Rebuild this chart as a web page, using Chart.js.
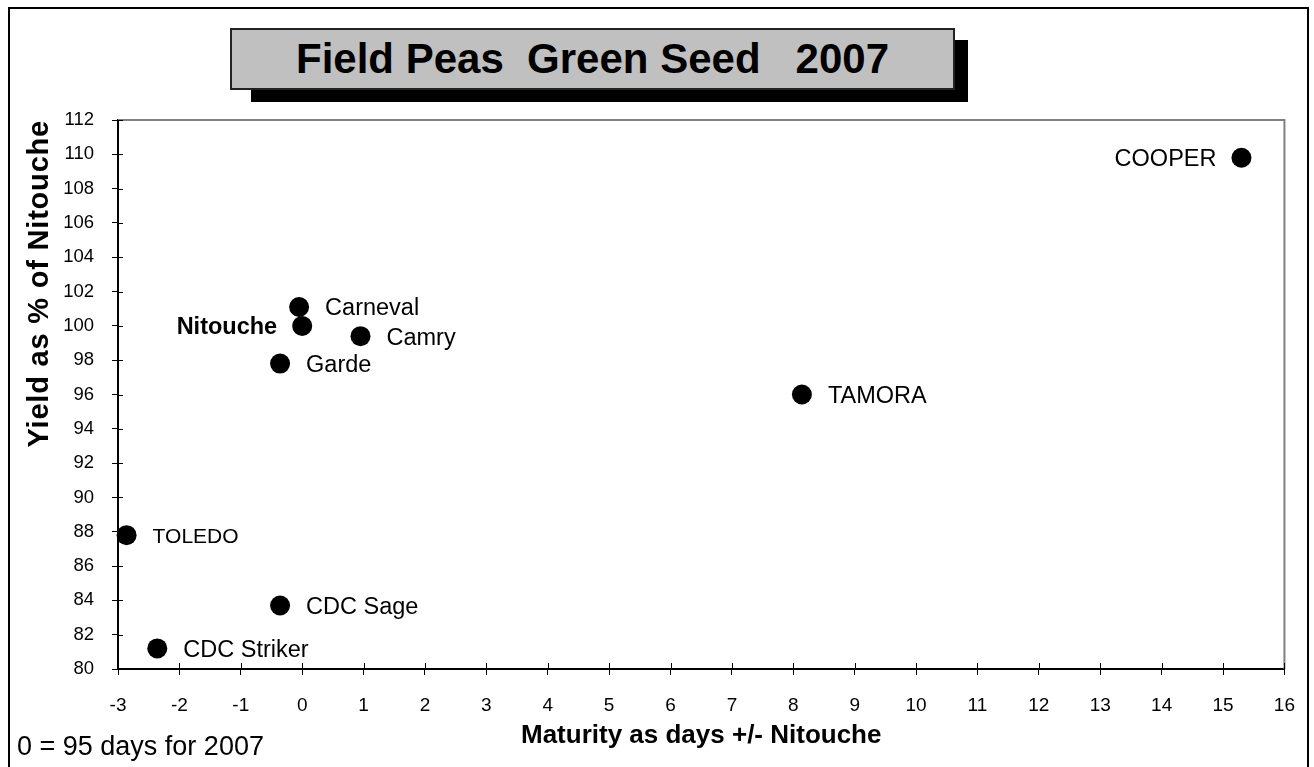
<!DOCTYPE html>
<html>
<head>
<meta charset="utf-8">
<script src="https://cdn.jsdelivr.net/npm/chart.js@4/dist/chart.umd.min.js"></script>
<style>
  html, body { margin: 0; padding: 0; background: #fff; overflow: hidden; }
  #wrap { position: relative; width: 1314px; height: 767px; font-family: "Liberation Sans", Arial, sans-serif; }
  #frame { position: absolute; left: 8px; top: 7px; width: 1301px; height: 800px; border: 2px solid #000; box-sizing: border-box; }
  #shadow { position: absolute; left: 251px; top: 40px; width: 717px; height: 62px; background: #000; }
  #titleBox {
    position: absolute; left: 230px; top: 28px; width: 725px; height: 62px; box-sizing: border-box;
    background: #c0c0c0; border: 2px solid #222;
    font: bold 42px "Liberation Sans", Arial, sans-serif; white-space: pre;
    text-align: center; line-height: 58px; color: #000;
  }
  #note { position: absolute; left: 17px; top: 731px; font: 27px "Liberation Sans", Arial, sans-serif; color: #000; }
  canvas { position: absolute; left: 0; top: 0; }
</style>
</head>
<body>
<div id="wrap">
  <canvas id="peaChart" width="1314" height="767"></canvas>
  <div id="frame"></div>
  <div id="shadow"></div>
  <div id="titleBox">Field Peas  Green Seed   2007</div>
  <div id="note">0 = 95 days for 2007</div>
</div>

<script>
/* =========================
   DATA
========================= */

const varieties = ["COOPER", "Carneval", "Nitouche", "Camry", "Garde", "TAMORA", "TOLEDO", "CDC Sage", "CDC Striker"];
const maturityDays = [15.3, -0.05, 0, 0.95, -0.36, 8.14, -2.86, -0.36, -2.36];
const yieldPct = [109.8, 101.1, 100.0, 99.4, 97.8, 96.0, 87.8, 83.7, 81.2];

const xTicks = { min: -3, max: 16, step: 1 };
const yTicks = { min: 80, max: 112, step: 2 };

const yTitle = "Yield as % of Nitouche";

// label placement per variety (left of the dot or right, bold, size)
const labelStyle = {
  "COOPER": { side: "left" },
  "Nitouche": { side: "left", bold: true },
  "TOLEDO": { size: 21 }
};

const FONT = '"Liberation Sans", Arial, sans-serif';


/* =========================
   PLUGINS
========================= */

// grey frame on the top and right of the plot, ticks that cross the axes
const plotFrame = {
  id: "plotFrame",
  beforeDatasetsDraw(chart) {
    const { ctx, chartArea: a, scales } = chart;
    ctx.save();
    ctx.strokeStyle = "#808080";
    ctx.lineWidth = 2;
    ctx.beginPath();
    ctx.moveTo(a.left, a.top);
    ctx.lineTo(a.right, a.top);
    ctx.lineTo(a.right, a.bottom);
    ctx.stroke();

    ctx.strokeStyle = "#000";
    ctx.lineWidth = 1;
    ctx.beginPath();
    scales.x.ticks.forEach(t => {
      const px = Math.round(scales.x.getPixelForValue(t.value)) + 0.5;
      ctx.moveTo(px, a.bottom);
      ctx.lineTo(px, a.bottom - 6);
    });
    scales.y.ticks.forEach(t => {
      const py = Math.round(scales.y.getPixelForValue(t.value)) + 0.5;
      ctx.moveTo(a.left, py);
      ctx.lineTo(a.left + 5, py);
    });
    ctx.stroke();

    // y axis title, drawn from the top of the plot downwards
    ctx.fillStyle = "#000";
    ctx.font = "bold 29px " + FONT;
    ctx.letterSpacing = "0.8px";
    ctx.textAlign = "right";
    ctx.textBaseline = "middle";
    ctx.translate(40, a.top);
    ctx.rotate(-Math.PI / 2);
    ctx.fillText(yTitle, 0, 0);
    ctx.restore();
  }
};

// variety names next to the dots
const pointLabels = {
  id: "pointLabels",
  afterDatasetsDraw(chart) {
    const { ctx } = chart;
    const meta = chart.getDatasetMeta(0);
    ctx.save();
    ctx.fillStyle = "#000";
    ctx.textBaseline = "middle";
    meta.data.forEach((pt, i) => {
      const name = varieties[i];
      const st = labelStyle[name] || {};
      const size = st.size || 23.5;
      ctx.font = (st.bold ? "bold " : "") + size + "px " + FONT;
      if (st.side === "left") {
        ctx.textAlign = "right";
        ctx.fillText(name, pt.x - 25, pt.y + 2);
      } else {
        ctx.textAlign = "left";
        ctx.fillText(name, pt.x + 26, pt.y + 2);
      }
    });
    ctx.restore();
  }
};


/* =========================
   CHART
========================= */

const points = maturityDays.map((x, i) => ({ x: x, y: yieldPct[i] }));

new Chart(document.getElementById("peaChart"), {
  type: "scatter",
  data: {
    datasets: [{
      data: points,
      backgroundColor: "#000",
      borderWidth: 0,
      pointRadius: 10,
      pointHoverRadius: 10,
      clip: false
    }]
  },
  options: {
    responsive: false,
    animation: false,
    events: [],
    layout: { padding: { left: 10, top: 120, right: 29, bottom: 0 } },
    plugins: { legend: { display: false }, tooltip: { enabled: false } },
    scales: {
      x: {
        type: "linear",
        min: xTicks.min,
        max: xTicks.max,
        afterFit(s) { s.height = 98; },
        ticks: { stepSize: xTicks.step, color: "#000", padding: 19, font: { family: FONT, size: 19 } },
        grid: { drawOnChartArea: false, drawTicks: true, tickLength: 6, color: "#000" },
        border: { color: "#000", width: 2 },
        title: {
          display: true,
          text: "Maturity as days +/- Nitouche",
          color: "#000",
          padding: { top: 0, bottom: 16 },
          font: { family: FONT, size: 26, weight: "bold" }
        }
      },
      y: {
        type: "linear",
        min: yTicks.min,
        max: yTicks.max,
        afterFit(s) { s.width = 108; },
        ticks: { stepSize: yTicks.step, color: "#000", padding: 18, font: { family: FONT, size: 18.5 } },
        grid: { drawOnChartArea: false, drawTicks: true, tickLength: 6, color: "#000" },
        border: { color: "#000", width: 2 }
      }
    }
  },
  plugins: [plotFrame, pointLabels]
});
</script>
</body>
</html>
